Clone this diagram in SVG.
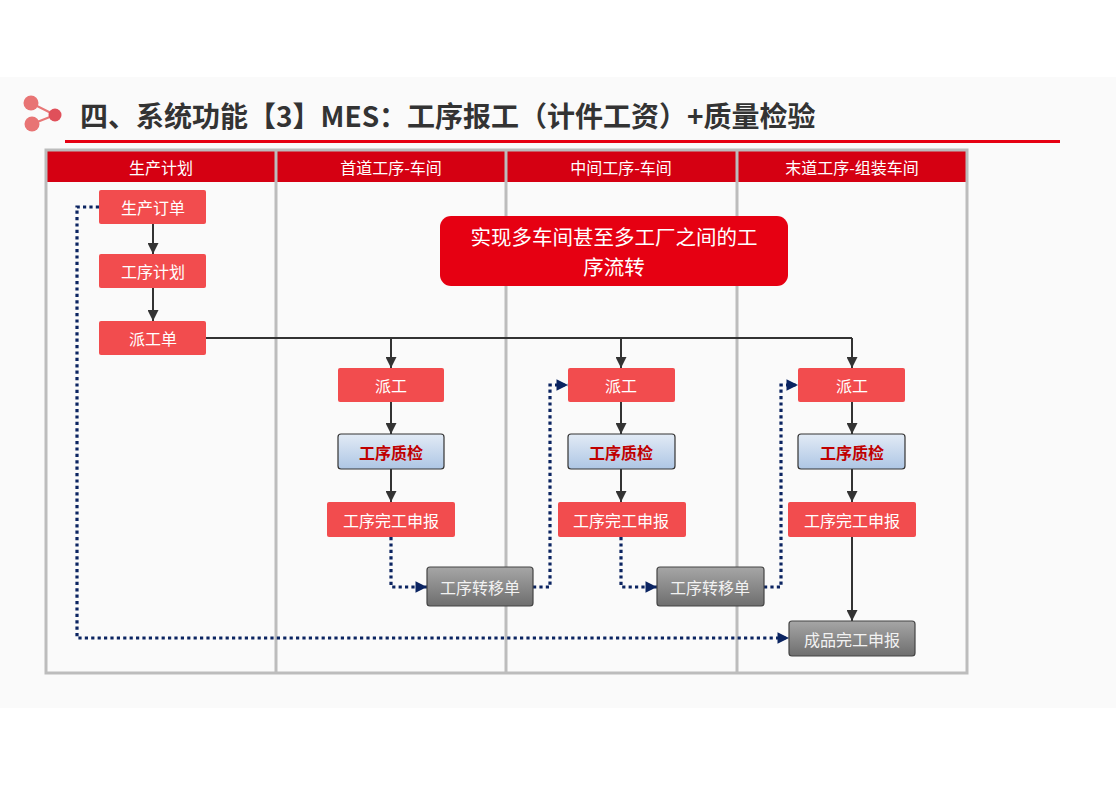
<svg xmlns="http://www.w3.org/2000/svg" width="1116" height="788" viewBox="0 0 1116 788">
<defs>
<linearGradient id="gBlue" x1="0" y1="0" x2="0" y2="1"><stop offset="0" stop-color="#e2ebf6"/><stop offset="1" stop-color="#aec6e4"/></linearGradient>
<linearGradient id="gGray" x1="0" y1="0" x2="0" y2="1"><stop offset="0" stop-color="#a6a6a6"/><stop offset="1" stop-color="#6e6e6e"/></linearGradient>
<marker id="aSolid" viewBox="0 0 10 10" refX="10" refY="5" markerWidth="5.5" markerHeight="5.5" orient="auto" markerUnits="strokeWidth"><path d="M0,0 L10,5 L0,10 z" fill="#333"/></marker>
<marker id="aDot" viewBox="0 0 10 10" refX="10" refY="5" markerWidth="3.6" markerHeight="3.6" orient="auto" markerUnits="strokeWidth"><path d="M0,0 L10,5 L0,10 z" fill="#0b2461"/></marker>
<style>
.t{font-family:"Noto Sans CJK SC","Liberation Sans",sans-serif;}
.red{fill:#f24c4e;}
.nt{font-size:16px;fill:#fff;text-anchor:middle;dominant-baseline:central;}
.qc{fill:url(#gBlue);stroke:#333;stroke-width:1.2;}
.qt{font-size:16px;font-weight:bold;fill:#c00000;text-anchor:middle;dominant-baseline:central;}
.gr{fill:url(#gGray);stroke:#444;stroke-width:1.2;}
.gt{font-size:16px;fill:#f2f2f2;text-anchor:middle;dominant-baseline:central;}
.ht{font-size:16px;fill:#fff;text-anchor:middle;dominant-baseline:central;}
.sl{fill:none;stroke:#333;stroke-width:2;}
.dl{fill:none;stroke:#0b2461;stroke-width:3.2;stroke-dasharray:3.2 3.2;}
.ct{font-size:20.5px;fill:#fff;text-anchor:middle;dominant-baseline:central;}
</style>
</defs>
<rect x="0" y="0" width="1116" height="788" fill="#ffffff"/>
<rect x="0" y="77" width="1116" height="631" fill="#fafafa"/>
<g id="title">
<line x1="31" y1="103" x2="55" y2="115" stroke="#e87777" stroke-width="2"/>
<line x1="32" y1="124" x2="55" y2="115" stroke="#e87777" stroke-width="2"/>
<circle cx="31" cy="103" r="7.5" fill="#e87474"/>
<circle cx="32" cy="124" r="7.5" fill="#e87474"/>
<circle cx="55" cy="115" r="6.5" fill="#e0505a"/>
<text class="t" x="80" y="127" font-size="28" font-weight="bold" fill="#333">四、系统功能【3】MES：工序报工（计件工资）+质量检验</text>
<rect x="65" y="140" width="995" height="3" fill="#e60012"/>
</g>
<g id="table">
<rect x="46" y="150" width="921" height="32" fill="#d50012"/>
<rect x="46" y="150" width="921" height="523" fill="none" stroke="#bcbcbc" stroke-width="3"/>
<line x1="276" y1="150" x2="276" y2="673" stroke="#bcbcbc" stroke-width="3"/>
<line x1="506" y1="150" x2="506" y2="673" stroke="#bcbcbc" stroke-width="3"/>
<line x1="737" y1="150" x2="737" y2="673" stroke="#bcbcbc" stroke-width="3"/>
<text class="t ht" x="161" y="167">生产计划</text>
<text class="t ht" x="391" y="167">首道工序-车间</text>
<text class="t ht" x="621" y="167">中间工序-车间</text>
<text class="t ht" x="852" y="167">末道工序-组装车间</text>
</g>
<g id="callout">
<rect x="440" y="216" width="348" height="70" rx="11" fill="#e60012"/>
<text class="t ct" x="614" y="235.5">实现多车间甚至多工厂之间的工</text>
<text class="t ct" x="614" y="265.5">序流转</text>
</g>
<g id="connectors">
<line class="sl" x1="153" y1="224" x2="153" y2="254" marker-end="url(#aSolid)"/>
<line class="sl" x1="153" y1="288" x2="153" y2="321" marker-end="url(#aSolid)"/>
<polyline class="sl" points="206,338 852,338"/>
<line class="sl" x1="391" y1="338" x2="391" y2="368" marker-end="url(#aSolid)"/>
<line class="sl" x1="621" y1="338" x2="621" y2="368" marker-end="url(#aSolid)"/>
<line class="sl" x1="852" y1="338" x2="852" y2="368" marker-end="url(#aSolid)"/>
<line class="sl" x1="391" y1="402" x2="391" y2="434" marker-end="url(#aSolid)"/>
<line class="sl" x1="391" y1="469" x2="391" y2="502" marker-end="url(#aSolid)"/>
<line class="sl" x1="621" y1="402" x2="621" y2="434" marker-end="url(#aSolid)"/>
<line class="sl" x1="621" y1="469" x2="621" y2="502" marker-end="url(#aSolid)"/>
<line class="sl" x1="852" y1="402" x2="852" y2="434" marker-end="url(#aSolid)"/>
<line class="sl" x1="852" y1="469" x2="852" y2="502" marker-end="url(#aSolid)"/>
<line class="sl" x1="852" y1="537" x2="852" y2="621" marker-end="url(#aSolid)"/>
<polyline class="dl" points="99,207 77,207 77,638 789,638" marker-end="url(#aDot)"/>
<polyline class="dl" points="391,537 391,587 427,587" marker-end="url(#aDot)"/>
<polyline class="dl" points="533,587 550,587 550,385 568,385" marker-end="url(#aDot)"/>
<polyline class="dl" points="621,537 621,587 657,587" marker-end="url(#aDot)"/>
<polyline class="dl" points="764,587 781,587 781,385 798,385" marker-end="url(#aDot)"/>
</g>
<g id="n-order"><rect class="red" x="99" y="190" width="107" height="34" rx="2"/><text class="t nt" x="153" y="207">生产订单</text></g>
<g id="n-plan"><rect class="red" x="99" y="254" width="107" height="34" rx="2"/><text class="t nt" x="153" y="271">工序计划</text></g>
<g id="n-dispatch"><rect class="red" x="99" y="321" width="107" height="34" rx="2"/><text class="t nt" x="153" y="338">派工单</text></g>
<g id="n-a1"><rect class="red" x="338" y="368" width="106" height="34" rx="2"/><text class="t nt" x="391" y="385">派工</text></g>
<g id="n-a2"><rect class="qc" x="338" y="434" width="106" height="35" rx="3"/><text class="t qt" x="391" y="452">工序质检</text></g>
<g id="n-a3"><rect class="red" x="327" y="502" width="128" height="35" rx="2"/><text class="t nt" x="391" y="520">工序完工申报</text></g>
<g id="n-a4"><rect class="gr" x="427" y="567" width="106" height="39" rx="3"/><text class="t gt" x="480" y="587">工序转移单</text></g>
<g id="n-b1"><rect class="red" x="568" y="368" width="107" height="34" rx="2"/><text class="t nt" x="621" y="385">派工</text></g>
<g id="n-b2"><rect class="qc" x="568" y="434" width="107" height="35" rx="3"/><text class="t qt" x="621" y="452">工序质检</text></g>
<g id="n-b3"><rect class="red" x="558" y="502" width="128" height="35" rx="2"/><text class="t nt" x="621" y="520">工序完工申报</text></g>
<g id="n-b4"><rect class="gr" x="657" y="567" width="107" height="39" rx="3"/><text class="t gt" x="710" y="587">工序转移单</text></g>
<g id="n-c1"><rect class="red" x="798" y="368" width="107" height="34" rx="2"/><text class="t nt" x="852" y="385">派工</text></g>
<g id="n-c2"><rect class="qc" x="798" y="434" width="107" height="35" rx="3"/><text class="t qt" x="852" y="452">工序质检</text></g>
<g id="n-c3"><rect class="red" x="788" y="502" width="128" height="35" rx="2"/><text class="t nt" x="852" y="520">工序完工申报</text></g>
<g id="n-c4"><rect class="gr" x="789" y="621" width="126" height="35" rx="3"/><text class="t gt" x="852" y="639">成品完工申报</text></g>
</svg>
